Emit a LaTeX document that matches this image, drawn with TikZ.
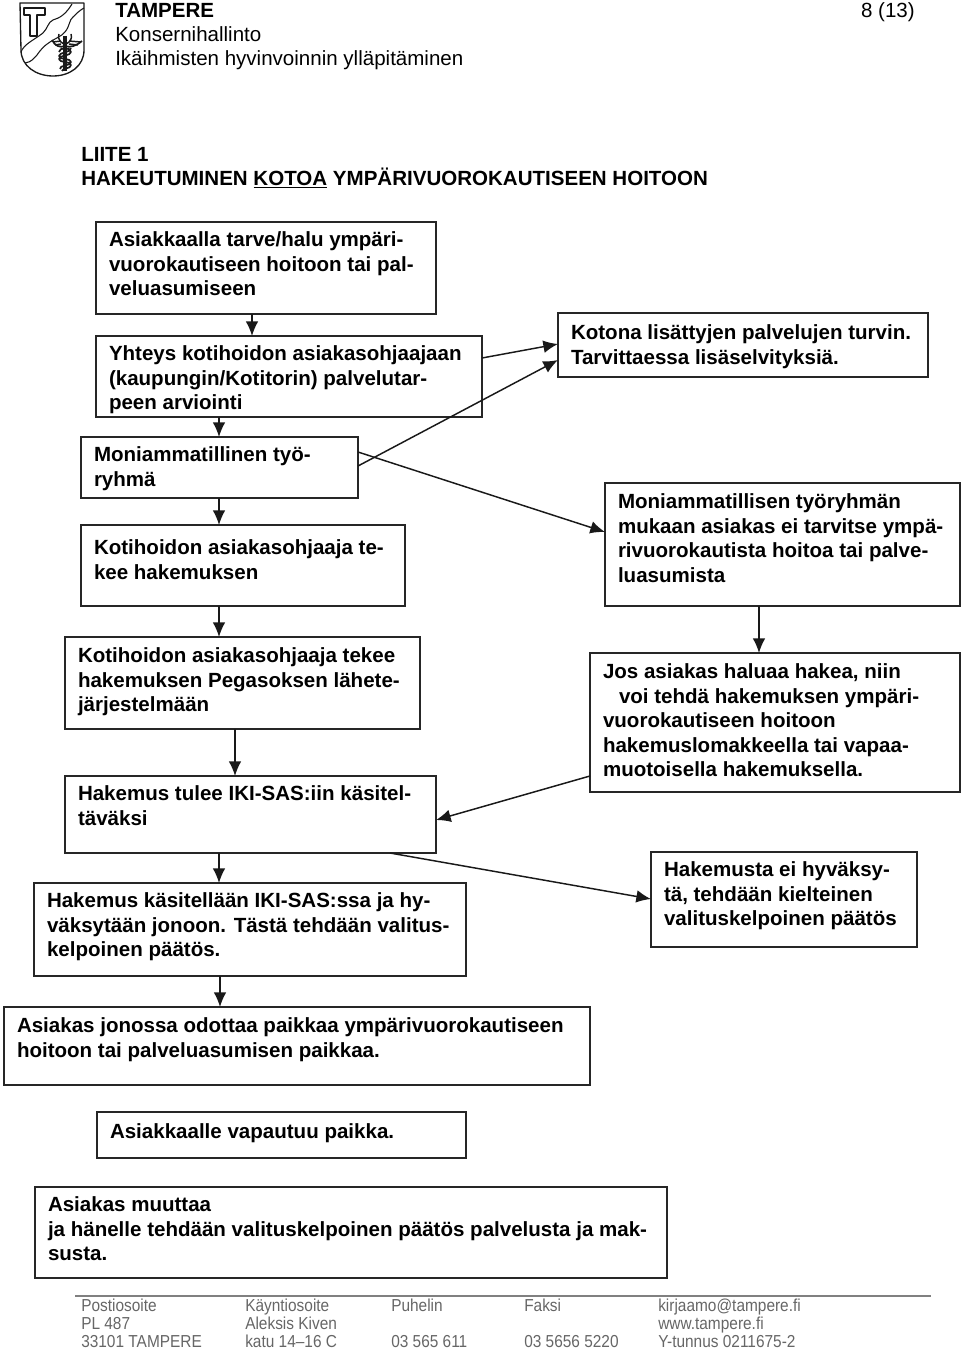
\documentclass[tikz,border=0pt]{standalone}
\usepackage{fontspec}
\setmainfont{Liberation Sans}
\newfontfamily\footfont[FakeStretch=0.89]{Liberation Sans}
\usetikzlibrary{arrows.meta}
\newdimen\pxu \pxu=0.75pt
\newcommand{\bx}[7]{% name x1 y1 x2 y2 toppad text
  \node[boxs,anchor=north west] (#1) at (#2,#3) {\parbox[t][\dimexpr\numexpr#5-#3\relax\pxu\relax][t]{\dimexpr\numexpr#4-#2\relax\pxu\relax}{\raggedright\leftskip=13\pxu\relax\rightskip=0pt plus 1fil\parindent=0pt\vspace*{#6\pxu}\boxfont #7}};}
\newcommand{\boxfont}{\fontsize{15.4pt}{18.35pt}\selectfont\bfseries}
\tikzset{
  boxs/.style={draw=black!85,line width=1.5pt,inner sep=0pt,outer sep=0pt,fill=white},
  arr/.style={draw=black!90,line width=1.1pt,-{Latex[length=11pt,width=9.5pt]}},
  plain/.style={anchor=base west,inner sep=0pt,text=black},
  foot/.style={anchor=base west,inner sep=0pt,text=black!60,font=\footfont\fontsize{13pt}{15pt}\selectfont},
  logo/.style={draw=black!90,line width=0.8pt,line join=round}
}
\begin{document}
\begin{tikzpicture}[x=0.75pt,y=-0.75pt]
\useasboundingbox (0,0) rectangle (960,1348);
% logo
\draw[logo,line width=1pt] (20,3) -- (84,3) -- (84,50) .. controls (84,66) and (70,76) .. (53,76) .. controls (36,76) and (21,66) .. (21,50) -- cycle;
\draw[logo] (24,8) -- (45,8) -- (45,15) -- (37,15) -- (37,36) -- (30,36) -- (30,15) -- (24,15) -- cycle;
\draw[logo] (21,52) .. controls (24,44) and (34,40) .. (43,33) .. controls (48,28) and (48,22) .. (53,20) .. controls (60,18) and (66,14) .. (72,4);
\draw[logo] (25,63) .. controls (32,62) and (34,58) .. (37,55) .. controls (42,48) and (44,46) .. (50,42) .. controls (56,38) and (62,36) .. (65,32) .. controls (70,26) and (69,20) .. (73,17) .. controls (76,14) and (80,10) .. (84,8);
\draw[logo,line width=2.4pt] (65,36) -- (65,71);
\draw[logo,line width=1.3pt] (59,52) .. controls (59,47) and (71,47) .. (71,52) .. controls (71,56) and (59,55) .. (59,59) .. controls (59,63) and (71,61) .. (71,65) .. controls (71,69) and (62,68) .. (62,71);
\draw[logo,line width=1.3pt] (71,48) .. controls (71,53) and (59,52) .. (59,56) .. controls (59,60) and (71,58) .. (71,62) .. controls (71,66) and (59,65) .. (60,69);
\draw[logo,line width=1.3pt] (52,40) .. controls (55,46) and (60,48) .. (65,46) .. controls (70,48) and (76,46) .. (82,41);
\draw[logo,line width=1.1pt] (53,42) -- (61,41) (55,45) -- (61,44) (81,42) -- (69,41) (78,45) -- (69,44);
\draw[logo,line width=1.1pt] (59,34) .. controls (57,41) and (63,44) .. (65,44) .. controls (67,44) and (73,41) .. (71,34);
% header
\node[plain,font=\fontsize{15.4pt}{18pt}\selectfont\bfseries] (tam) at (115,17.8) {TAMPERE};
\node[plain,font=\fontsize{15.4pt}{18pt}\selectfont] (kon) at (115,41.5) {Konsernihallinto};
\node[plain,font=\fontsize{15.4pt}{18pt}\selectfont] (ika) at (115,65.5) {Ikäihmisten hyvinvoinnin ylläpitäminen};
\node[anchor=base east,inner sep=0pt,font=\fontsize{15.4pt}{18pt}\selectfont] (pg) at (915,17.8) {8 (13)};
\node[plain,font=\fontsize{15.4pt}{18pt}\selectfont\bfseries] (lii) at (81,161.5) {LIITE 1};
\node[plain,font=\fontsize{15.4pt}{18pt}\selectfont\bfseries] (hak) at (81,185.7) {HAKEUTUMINEN \underline{KOTOA} YMPÄRIVUOROKAUTISEEN HOITOON};
% boxes
\bx{a}{96}{222}{436}{314}{10}{Asiakkaalla tarve/halu ympäri-\\vuorokautiseen hoitoon tai pal-\\veluasumiseen}
\bx{b}{96}{336}{482}{417}{10}{Yhteys kotihoidon asiakasohjaajaan\\(kaupungin/Kotitorin) palvelutar-\\peen arviointi}
\bx{c}{81}{437}{358}{498}{10}{Moniammatillinen työ-\\ryhmä}
\bx{d}{81}{525}{405}{606}{15}{Kotihoidon asiakasohjaaja te-\\kee hakemuksen}
\bx{e}{558}{313}{928}{377}{12}{Kotona lisättyjen palvelujen turvin.\\Tarvittaessa lisäselvityksiä.}
\bx{f}{605}{483}{960}{606}{11}{Moniammatillisen työryhmän\\mukaan asiakas ei tarvitse ympä-\\rivuorokautista hoitoa tai palve-\\luasumista}
\bx{g}{65}{637}{420}{729}{11}{Kotihoidon asiakasohjaaja tekee\\hakemuksen Pegasoksen lähete-\\järjestelmään}
\bx{h}{65}{776}{436}{853}{10}{Hakemus tulee IKI-SAS:iin käsitel-\\täväksi}
\bx{i}{590}{653}{960}{792}{11}{Jos asiakas haluaa hakea, niin\\\hspace*{12pt}voi tehdä hakemuksen ympäri-\\vuorokautiseen hoitoon\\hakemuslomakkeella tai vapaa-\\muotoisella hakemuksella.}
\bx{j}{34}{883}{466}{976}{10}{Hakemus käsitellään IKI-SAS:ssa ja hy-\\väksytään jonoon. Tästä tehdään valitus-\\kelpoinen päätös.}
\bx{k}{651}{852}{917}{947}{10}{Hakemusta ei hyväksy-\\tä, tehdään kielteinen\\valituskelpoinen päätös}
\bx{l}{4}{1007}{590}{1085}{11}{Asiakas jonossa odottaa paikkaa ympärivuorokautiseen\\hoitoon tai palveluasumisen paikkaa.}
\bx{m}{97}{1112}{466}{1158}{12}{Asiakkaalle vapautuu paikka.}
\bx{n}{35}{1187}{667}{1278}{10}{Asiakas muuttaa\\ja hänelle tehdään valituskelpoinen päätös palvelusta ja mak-\\susta.}
% arrows
\draw[arr] ([xshift=156\pxu]a.south west) -- ([xshift=156\pxu]b.north west);
\draw[arr] ([xshift=123\pxu]b.south west) -- ([xshift=138\pxu]c.north west);
\draw[arr] ([xshift=138\pxu]c.south west) -- ([xshift=138\pxu]d.north west);
\draw[arr] ([xshift=138\pxu]d.south west) -- ([xshift=154\pxu]g.north west);
\draw[arr] ([xshift=170\pxu]g.south west) -- ([xshift=170\pxu]h.north west);
\draw[arr] ([xshift=154\pxu]h.south west) -- ([xshift=185\pxu]j.north west);
\draw[arr] ([xshift=186\pxu]j.south west) -- ([xshift=216\pxu]l.north west);
\draw[arr] ([yshift=-22\pxu]b.north east) -- ([yshift=-31\pxu]e.north west);
\draw[arr] ([yshift=-29\pxu]c.north east) -- ([yshift=-47\pxu]e.north west);
\draw[arr] ([yshift=-15\pxu]c.north east) -- ([yshift=-49\pxu]f.north west);
\draw[arr] ([xshift=154\pxu]f.south west) -- ([xshift=169\pxu]i.north west);
\draw[arr] ([yshift=16\pxu]i.south west) -- ([yshift=-44\pxu]h.north east);
\draw[arr] ([xshift=325\pxu]h.south west) -- ([yshift=-47\pxu]k.north west);
% footer
\draw[draw=black!50,line width=1pt] (75,1296) -- (931,1296);
\node[foot] (f1) at (81,1311) {Postiosoite};
\node[foot] (f2) at (81,1329) {PL 487};
\node[foot] (f3) at (81,1347) {33101 TAMPERE};
\node[foot] (f4) at (245,1311) {Käyntiosoite};
\node[foot] (f5) at (245,1329) {Aleksis Kiven};
\node[foot] (f6) at (245,1347) {katu 14–16 C};
\node[foot] (f7) at (391,1311) {Puhelin};
\node[foot] (f8) at (391,1347) {03 565 611};
\node[foot] (f9) at (524,1311) {Faksi};
\node[foot] (f10) at (524,1347) {03 5656 5220};
\node[foot] (f11) at (658,1311) {kirjaamo@tampere.fi};
\node[foot] (f12) at (658,1329) {www.tampere.fi};
\node[foot] (f13) at (658,1347) {Y-tunnus 0211675-2};
\end{tikzpicture}
\end{document}
